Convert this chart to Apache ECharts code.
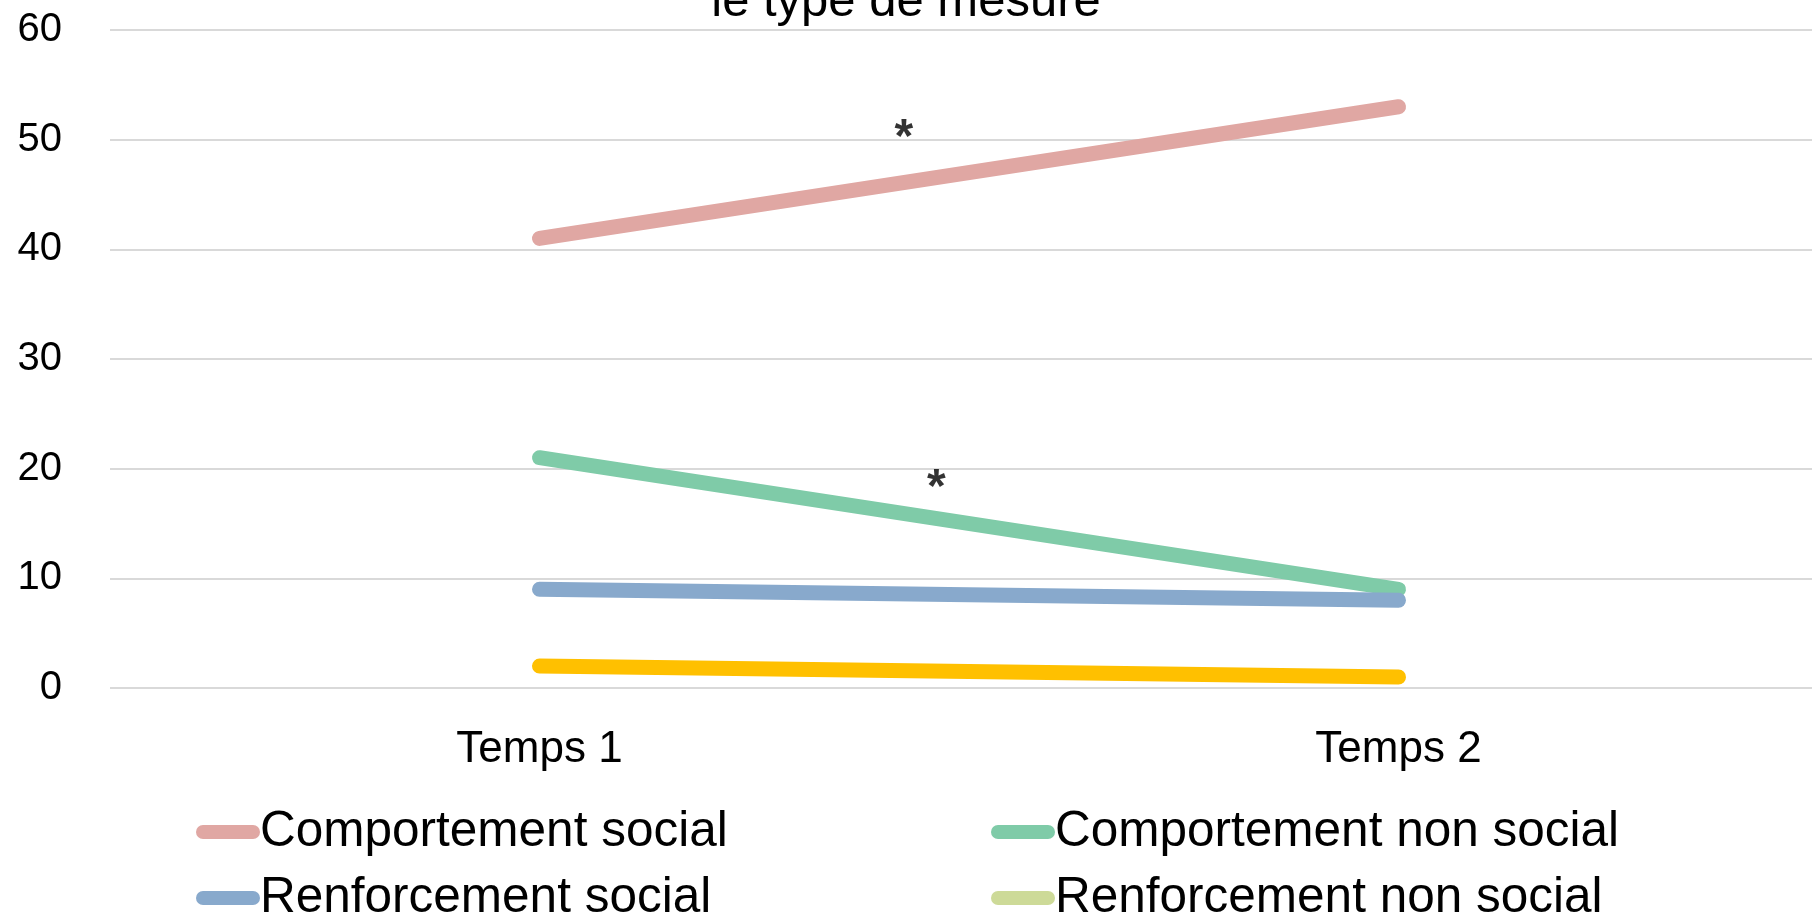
<!DOCTYPE html>
<html><head><meta charset="utf-8">
<script src="https://cdn.jsdelivr.net/npm/echarts@6/dist/echarts.min.js"></script>
<style>html,body{margin:0;padding:0;background:#fff;overflow:hidden}#c{width:1812px;height:916px}</style>
</head><body><div id="c"></div>
<script>
var categories = ['Temps 1', 'Temps 2'];
var seriesNames = ['Comportement social', 'Comportement non social', 'Renforcement social', 'Renforcement non social'];
var compSocial = [41, 53];
var compNonSocial = [21, 9];
var renfSocial = [9, 8];
var renfNonSocial = [2, 1];
var yTicks = [0, 10, 20, 30, 40, 50, 60];
var starPoints = [[0.424, 50.9], [0.462, 19.0]];
var titleText = 'le type de mesure';

var colors = ['#E0A7A3', '#7FCBA8', '#88A9CC', '#FFC000'];
var legendColors = ['#E0A7A3', '#7FCBA8', '#88A9CC', '#CDDA98'];
var font = "'Liberation Sans', sans-serif";
var capsule = 'path://M7,0 H57 A7,7 0 0 1 57,14 H7 A7,7 0 0 1 7,0 Z';

var values = [compSocial, compNonSocial, renfSocial, renfNonSocial];
var chart = echarts.init(document.getElementById('c'));
var series = values.map(function (v, i) {
  return {
    name: seriesNames[i], type: 'line', data: v, showSymbol: false, symbol: 'none',
    xAxisIndex: 0, yAxisIndex: 0,
    lineStyle: { width: 15, color: colors[i], cap: 'round', join: 'round' },
    itemStyle: { color: colors[i] }, z: 3
  };
});
series.push({
  type: 'scatter', xAxisIndex: 1, yAxisIndex: 0, data: starPoints, symbolSize: 0,
  label: { show: true, position: 'inside', formatter: '*', fontFamily: font, fontWeight: 'bold', fontSize: 48, color: '#000', offset: [0, 9] },
  silent: true
});
function legendItem(i) {
  return { name: seriesNames[i], icon: capsule, itemStyle: { color: legendColors[i] } };
}
var legendCommon = {
  orient: 'vertical', itemWidth: 64, itemHeight: 14, itemGap: 16, padding: 0, height: 200,
  textStyle: { fontFamily: font, fontSize: 49.5, lineHeight: 50, color: '#000', padding: [0, 0, 0, -5] },
  selectedMode: false
};
chart.setOption({
  backgroundColor: '#fff',
  animation: false,
  title: { text: titleText, left: 'center', top: -27, textStyle: { fontFamily: font, fontSize: 49, fontWeight: 'normal', color: '#000' } },
  grid: { left: 110, width: 1718, top: 30, bottom: 228, containLabel: false, outerBoundsMode: 'none' },
  xAxis: [{
    type: 'category', data: categories, boundaryGap: true,
    axisLine: { show: false }, axisTick: { show: false },
    axisLabel: { fontFamily: font, fontSize: 44, color: '#000', margin: 40 }
  }, {
    type: 'value', min: -0.5, max: 1.5, show: false
  }],
  yAxis: {
    type: 'value', min: yTicks[0], max: yTicks[yTicks.length - 1], interval: 10,
    axisLine: { show: false }, axisTick: { show: false },
    axisLabel: { fontFamily: font, fontSize: 40, color: '#000', margin: 48 },
    splitLine: { lineStyle: { color: '#D9D9D9', width: 2 } }
  },
  legend: [
    Object.assign({ left: 196, top: 807, data: [legendItem(0), legendItem(2)] }, legendCommon),
    Object.assign({ left: 991, top: 807, data: [legendItem(1), legendItem(3)] }, legendCommon)
  ],
  series: series
});
</script></body></html>
